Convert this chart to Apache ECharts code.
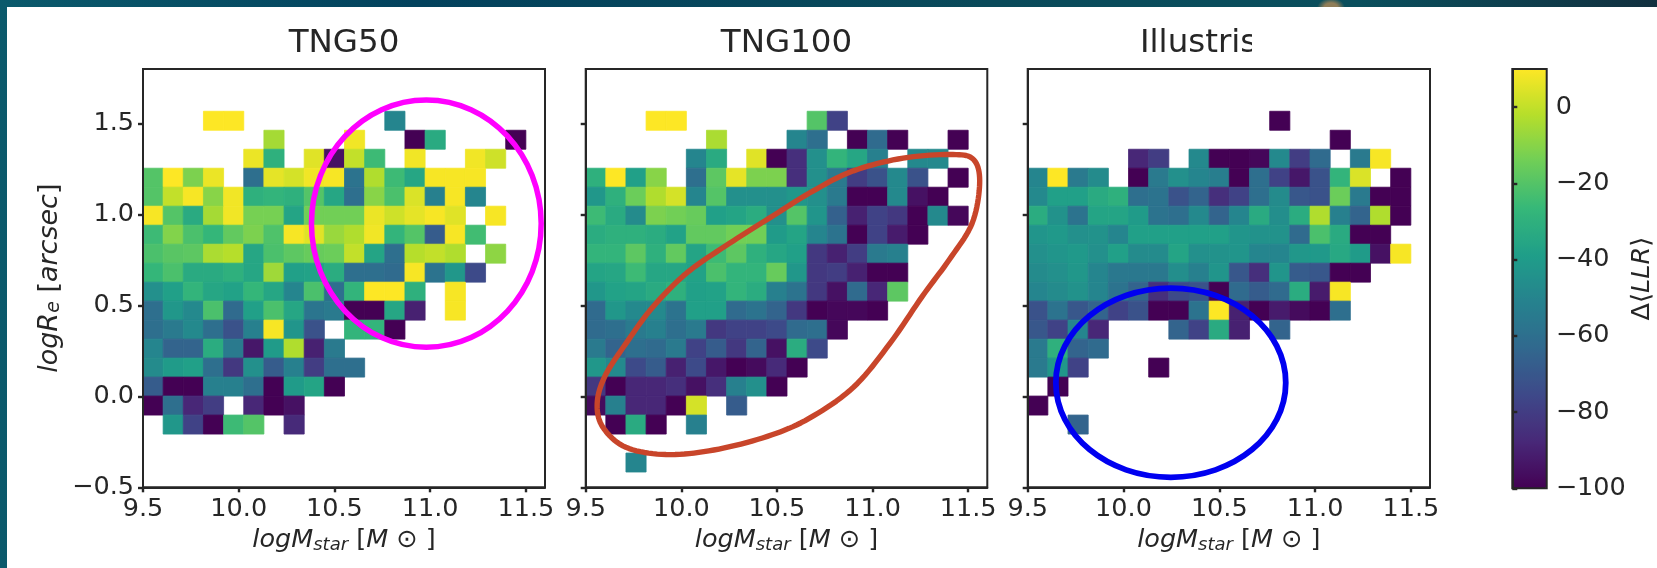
<!DOCTYPE html>
<html><head><meta charset="utf-8">
<style>
html,body{margin:0;padding:0;width:1657px;height:568px;overflow:hidden;
background:radial-gradient(ellipse 14px 10px at 1331px 8px,#8f7d58 0%,#8f7d58 50%,rgba(143,125,88,0) 100%),linear-gradient(90deg,#0b5a6c 0%,#03425d 25%,#0a4a5a 60%,#0a4f5d 82%,#12303f 100%);}
#sheet{position:absolute;left:7px;top:7px;width:1650px;height:561px;background:#fff;}
#chart{position:absolute;left:0;top:0;width:1657px;height:568px;}
</style>
<script src="https://cdn.jsdelivr.net/npm/echarts@6/dist/echarts.min.js"></script>
</head><body><div id="sheet"></div><div id="chart"></div>
<script>
const _ = null;
const panelTitles = ['TNG50', 'TNG100', 'Illustris'];
const xTicks = [9.5, 10, 10.5, 11, 11.5];
const yTicks = [-0.5, 0, 0.5, 1, 1.5];
const colorbarTicks = [-100, -80, -60, -40, -20, 0];
const xBinStart = 9.5, xBinWidth = 2 / 19;
const yBinStart = -0.416, yBinHeight = 0.1044;

// rows listed from the top of the panel downwards, 19 columns each
const tng50Rows = [
[_,_,_,10,10,_,_,_,_,_,_,_,-50,_,_,_,_,_,_],
[_,_,_,_,_,_,-5,_,_,_,8,_,_,-100,-33,_,_,_,-100],
[_,_,_,_,_,7,-30,_,5,-95,0,-25,_,8,_,_,8,2,_],
[-20,10,-12,7,_,-60,6,3,8,9,-58,-3,-25,-35,9,9,9,_,_],
[-20,0,9,-10,8,-30,-28,-30,-20,-35,-60,-10,-22,4,-52,9,-50,_,_],
[9,-20,-33,-5,8,-13,-13,-36,-14,-14,-14,7,2,6,9,5,_,9,_],
[-25,-11,-22,-27,-17,-12,-21,9,5,-7,-3,8,-28,-20,-68,9,-24,_,_],
[-22,-19,-18,-4,-2,-35,-22,-18,-16,-15,0,-36,-60,-2,0,-3,_,-9,_],
[-27,-22,-33,-33,-30,-35,-6,-38,-37,-32,-60,-60,-62,9,-58,-42,-75,_,_],
[-45,-38,-28,-35,-37,-27,-35,-50,-22,-60,-28,10,10,-30,_,9,_,_,_],
[-60,-42,-48,-22,-62,-38,-22,-35,-57,-55,-100,-100,-35,-90,_,9,_,_,_],
[-60,-55,-48,-60,-72,-52,9,-43,-72,_,-28,-28,-100,_,_,_,_,_,_],
[-50,-65,-65,-32,-55,-93,-40,-3,-90,-55,_,_,_,_,_,_,_,_,_],
[-47,-40,-38,-60,-82,-45,-68,-52,-80,-60,-60,_,_,_,_,_,_,_,_],
[-68,-100,-100,-52,-52,-60,-100,-40,-36,-100,_,_,_,_,_,_,_,_,_],
[-100,-60,-88,-80,_,-88,-100,-95,_,_,_,_,_,_,_,_,_,_,_],
[_,-42,-78,-100,-25,-20,_,-87,_,_,_,_,_,_,_,_,_,_,_],
[_,_,_,_,_,_,_,_,_,_,_,_,_,_,_,_,_,_,_],
[_,_,_,_,_,_,_,_,_,_,_,_,_,_,_,_,_,_,_]
];
const tng100Rows = [
[_,_,_,10,10,_,_,_,_,_,_,-20,-78,_,_,_,_,_,_],
[_,_,_,_,_,_,-4,_,_,_,-50,-60,_,-100,-62,-100,_,_,-100],
[_,_,_,_,_,-50,-33,_,5,-100,-85,-45,-28,-35,-52,_,-48,-48,_],
[-30,10,-38,-10,_,-60,-18,6,-12,-12,-85,-45,-55,-80,-72,-48,-72,_,-100],
[-42,-30,-15,-3,3,-50,-20,-45,-45,-45,-42,-45,-55,-100,-100,-48,-95,-100,_],
[-25,-33,-47,-12,-14,-16,-38,-36,-32,-45,-20,-43,-66,-90,-78,-82,-100,-48,-98],
[-32,-30,-30,-32,-37,-17,-17,-14,-14,-40,-36,-50,-58,-100,-78,-92,-100,_,_],
[-28,-28,-18,-30,-17,-36,-25,-18,-30,-35,-38,-82,-90,-80,-55,-52,_,_,_],
[-36,-35,-25,-35,-35,-37,-22,-28,-28,-16,-42,-82,-80,-90,-100,-100,_,_,_],
[-42,-37,-36,-33,-30,-38,-37,-28,-32,-52,-58,-82,-95,-62,-88,-18,_,_,_],
[-62,-42,-48,-48,-58,-38,-38,-62,-58,-65,-82,-100,-98,-98,-100,_,_,_,_],
[-62,-60,-55,-52,-60,-55,-82,-78,-78,-75,-62,-60,-98,_,_,_,_,_,_],
[-55,-65,-60,-62,-55,-78,-68,-82,-65,-95,-32,-75,_,_,_,_,_,_,_],
[-42,-48,-75,-68,-90,-75,-93,-100,-97,-87,-100,_,_,_,_,_,_,_,_],
[-82,-100,-88,-88,-85,-95,-85,-52,-45,-100,_,_,_,_,_,_,_,_,_],
[-97,-52,-88,-88,-100,3,_,-68,_,_,_,_,_,_,_,_,_,_,_],
[_,-100,-33,-100,_,-52,_,_,_,_,_,_,_,_,_,_,_,_,_],
[_,_,_,_,_,_,_,_,_,_,_,_,_,_,_,_,_,_,_],
[_,_,-50,_,_,_,_,_,_,_,_,_,_,_,_,_,_,_,_]
];
const illustrisRows = [
[_,_,_,_,_,_,_,_,_,_,_,_,-100,_,_,_,_,_,_],
[_,_,_,_,_,_,_,_,_,_,_,_,_,_,_,-100,_,_,_],
[_,_,_,_,_,-88,-80,_,-48,-100,-100,-98,-48,-80,-62,_,-55,9,_],
[-50,10,-55,-47,_,-100,-55,-45,-50,-53,-100,-60,-78,-93,-72,-28,4,_,-100],
[-48,-38,-38,-33,-30,-60,-58,-72,-65,-85,-78,-60,-47,-70,-72,-15,-55,-100,-100],
[-32,-44,-58,-36,-36,-40,-58,-60,-48,-65,-50,-33,-46,-32,-3,-52,-65,-3,-100],
[-43,-41,-45,-44,-50,-38,-38,-38,-38,-38,-43,-44,-44,-62,-22,-33,-100,-100,_],
[-45,-43,-41,-45,-38,-47,-47,-36,-45,-44,-43,-50,-50,-42,-41,-34,-40,-95,9],
[-47,-45,-42,-50,-56,-56,-56,-46,-52,-43,-70,-85,-43,-68,-70,-100,-100,_,_],
[-50,-47,-44,-50,-58,-65,-85,-75,-72,-100,-62,-68,-62,-32,-92,9,_,_,_],
[-72,-58,-70,-65,-78,-72,-100,-100,-58,10,-90,-100,-92,-97,-100,-60,_,_,_],
[-70,-78,-50,-88,_,_,_,-65,-78,-33,-90,_,-65,_,_,_,_,_,_],
[-55,-30,-65,-62,_,_,_,_,_,_,_,_,_,_,_,_,_,_,_],
[-55,-42,-78,_,_,_,-100,_,_,_,_,_,_,_,_,_,_,_,_],
[_,-100,_,_,_,_,_,_,_,_,_,_,_,_,_,_,_,_,_],
[-100,_,_,_,_,_,_,_,_,_,_,_,_,_,_,_,_,_,_],
[_,_,-65,_,_,_,_,_,_,_,_,_,_,_,_,_,_,_,_],
[_,_,_,_,_,_,_,_,_,_,_,_,_,_,_,_,_,_,_],
[_,_,_,_,_,_,_,_,_,_,_,_,_,_,_,_,_,_,_]
];
const panelRows = [tng50Rows, tng100Rows, illustrisRows];

const viridis = ['#440154','#482878','#3e4989','#31688e','#26828e','#1f9e89','#35b779','#6ece58','#b5de2b','#fde725'];

// hand-drawn annotations, in axis units
const pinkEllipse = [10.98, 0.95, 0.60, 0.68];
const blueEllipse = [10.247, 0.075, 0.60, 0.52];
const redLoopX = [11.42,11.53,11.56,11.52,11.40,11.26,11.09,10.90,10.67,10.45,10.17,9.92,9.71,9.59,9.56,9.60,9.71,9.85,10.03,10.25,10.46,10.69,10.90,11.16];
const redLoopY = [1.33,1.30,1.17,0.95,0.75,0.55,0.29,0.05,-0.12,-0.22,-0.295,-0.32,-0.28,-0.17,-0.04,0.11,0.29,0.49,0.68,0.84,0.98,1.13,1.24,1.31];

const INK = '#262626';
const FONT = '"DejaVu Sans"';
const fmtMinus = v => String(Number.isInteger(v) ? v : v.toFixed(1)).replace('-', '\u2212');
const fmt1 = v => v.toFixed(1).replace('-', '\u2212');

const panels = [[143, 545], [585.7, 987.3], [1027.7, 1430]];
const TOP = 69, BOTTOM = 487.3, W = 1657, H = 568;
const subRich = {
  i: {fontFamily: FONT, fontStyle: 'italic', fontSize: 25.5, color: INK},
  n: {fontFamily: FONT, fontSize: 25.5, color: INK},
  s: {fontFamily: FONT, fontStyle: 'italic', fontSize: 18, color: INK, padding: [9, 0, 0, 0]}
};
const yNameRich = {
  i: {fontFamily: FONT, fontStyle: 'italic', fontSize: 27, color: INK},
  n: {fontFamily: FONT, fontSize: 27, color: INK},
  s: {fontFamily: FONT, fontStyle: 'italic', fontSize: 19, color: INK, padding: [9, 0, 0, 0]}
};

const grid = [], xAxis = [], yAxis = [], series = [], title = [];
panels.forEach((p, k) => {
  grid.push({left: p[0], width: p[1] - p[0], top: TOP, height: BOTTOM - TOP, show: true, backgroundColor: 'transparent', borderColor: INK, borderWidth: 2, z: 0, outerBoundsMode: 'none', containLabel: false});
  xAxis.push({
    type: 'value', gridIndex: k, min: 9.5, max: 11.6, z: 5,
    splitLine: {show: false},
    axisLine: {show: true, onZero: false, lineStyle: {color: INK, width: 2}},
    axisTick: {show: true, customValues: xTicks, length: 5, lineStyle: {color: INK, width: 2.4}},
    axisLabel: {show: true, customValues: xTicks, formatter: v => v.toFixed(1), fontFamily: FONT, fontSize: 25.5, color: INK, margin: 9, hideOverlap: false},
    name: '{i|logM}{s|star}{n| [}{i|M}{n| \u2299 ]}',
    nameLocation: 'middle', nameGap: 40,
    nameTextStyle: {rich: subRich}
  });
  yAxis.push({
    type: 'value', gridIndex: k, min: -0.5, max: 1.8, z: 5,
    splitLine: {show: false},
    axisLine: {show: true, onZero: false, lineStyle: {color: INK, width: 2}},
    axisTick: {show: true, customValues: yTicks, length: 5, lineStyle: {color: INK, width: 2.4}},
    axisLabel: {show: k === 0, customValues: yTicks, formatter: fmt1, fontFamily: FONT, fontSize: 25.5, color: INK, margin: 9},
    name: k === 0 ? '{i|logR}{s|e}{n| [}{i|arcsec}{n|]}' : '',
    nameLocation: 'middle', nameGap: 79, nameRotate: 90,
    nameTextStyle: {rich: yNameRich}
  });
  const data = [];
  panelRows[k].forEach((row, r) => row.forEach((v, c) => {
    if (v !== null) data.push([xBinStart + c * xBinWidth, yBinStart + (18 - r) * yBinHeight, v]);
  }));
  series.push({
    type: 'custom', xAxisIndex: k, yAxisIndex: k, z: 2, data,
    encode: {x: 0, y: 1},
    renderItem(params, api) {
      const a = api.coord([api.value(0), api.value(1)]);
      const b = api.coord([api.value(0) + xBinWidth, api.value(1) + yBinHeight]);
      return {type: 'rect', shape: {x: a[0], y: b[1], width: b[0] - a[0], height: a[1] - b[1]},
        style: {fill: api.visual('color'), stroke: api.visual('color'), lineWidth: 0.8}};
    }
  });
  title.push({text: panelTitles[k], left: k === 2 ? 1140 : (p[0] + p[1]) / 2, textAlign: k === 2 ? 'left' : 'center', top: 27, padding: 0,
    textStyle: {fontFamily: FONT, fontWeight: 'normal', fontSize: 32.5, color: INK}});
});

function ellipseSeries(idx, e, color, width) {
  return {
    type: 'custom', xAxisIndex: idx, yAxisIndex: idx, z: 10, silent: true, clip: false,
    data: [e], encode: {x: 0, y: 1},
    renderItem(params, api) {
      const c = api.coord([e[0], e[1]]);
      const ex = api.coord([e[0] + e[2], e[1] + e[3]]);
      return {type: 'ellipse', shape: {cx: c[0], cy: c[1], rx: ex[0] - c[0], ry: c[1] - ex[1]},
        style: {fill: 'none', stroke: color, lineWidth: width}};
    }
  };
}
series.push(ellipseSeries(0, pinkEllipse, '#ff00ff', 5.5));
series.push(ellipseSeries(2, blueEllipse, '#0000f0', 5.8));
series.push({
  type: 'custom', xAxisIndex: 1, yAxisIndex: 1, z: 10, silent: true, clip: false,
  data: redLoopX.map((x, i) => [x, redLoopY[i]]), encode: {x: 0, y: 1},
  renderItem(params, api) {
    if (params.dataIndex !== 0) return;
    const pts = redLoopX.map((x, i) => api.coord([x, redLoopY[i]]));
    const n = pts.length, out = [];
    // closed Catmull-Rom outline through the traced points
    for (let i = 0; i < n; i++) {
      const p0 = pts[(i + n - 1) % n], p1 = pts[i], p2 = pts[(i + 1) % n], p3 = pts[(i + 2) % n];
      for (let s = 0; s < 10; s++) {
        const t = s / 10, t2 = t * t, t3 = t2 * t;
        out.push([0, 1].map(d => 0.5 * (2 * p1[d] + (p2[d] - p0[d]) * t + (2 * p0[d] - 5 * p1[d] + 4 * p2[d] - p3[d]) * t2 + (3 * p1[d] - p0[d] - 3 * p2[d] + p3[d]) * t3)));
      }
    }
    return {type: 'polygon', shape: {points: out},
      style: {fill: 'none', stroke: '#c8452a', lineWidth: 5.4, lineJoin: 'round'}};
  }
});

// colour bar frame and ticks
grid.push({left: 1512.3, width: 34.4, top: 69, height: 419.3, show: true, backgroundColor: 'transparent', borderColor: INK, borderWidth: 2, z: 6, outerBoundsMode: 'none', containLabel: false});
xAxis.push({type: 'value', gridIndex: 3, min: 0, max: 1, show: false});
yAxis.push({
  type: 'value', gridIndex: 3, min: -100, max: 10, position: 'right', z: 7,
  splitLine: {show: false},
  axisLine: {show: true, lineStyle: {color: INK, width: 2}},
  axisTick: {show: true, customValues: colorbarTicks, length: 5, lineStyle: {color: INK, width: 2.4}},
  axisLabel: {show: true, customValues: colorbarTicks, formatter: fmtMinus, fontFamily: FONT, fontSize: 25.5, color: INK, margin: 9},
  name: '{n|\u0394\u27e8}{i|LLR}{n|\u27e9}', nameLocation: 'middle', nameGap: 78, nameRotate: 90,
  nameTextStyle: {rich: subRich}
});

const chart = echarts.init(document.getElementById('chart'), null, {renderer: 'canvas', width: W, height: H});
chart.setOption({
  animation: false, backgroundColor: 'transparent',
  title, grid, xAxis, yAxis, series,
  graphic: [{type: 'rect', left: 1252, top: 22, z: 50, shape: {width: 14, height: 42}, style: {fill: '#fff'}, silent: true}],
  visualMap: {
    type: 'continuous', min: -100, max: 10, dimension: 2, seriesIndex: [0, 1, 2],
    inRange: {color: viridis}, calculable: false, realtime: false, text: ['', ''], showLabel: false,
    left: 1512.3, top: 69, itemWidth: 34.4, itemHeight: 419.3, padding: 0, z: 1, textGap: 0,
    hoverLink: false
  }
});
</script></body></html>
